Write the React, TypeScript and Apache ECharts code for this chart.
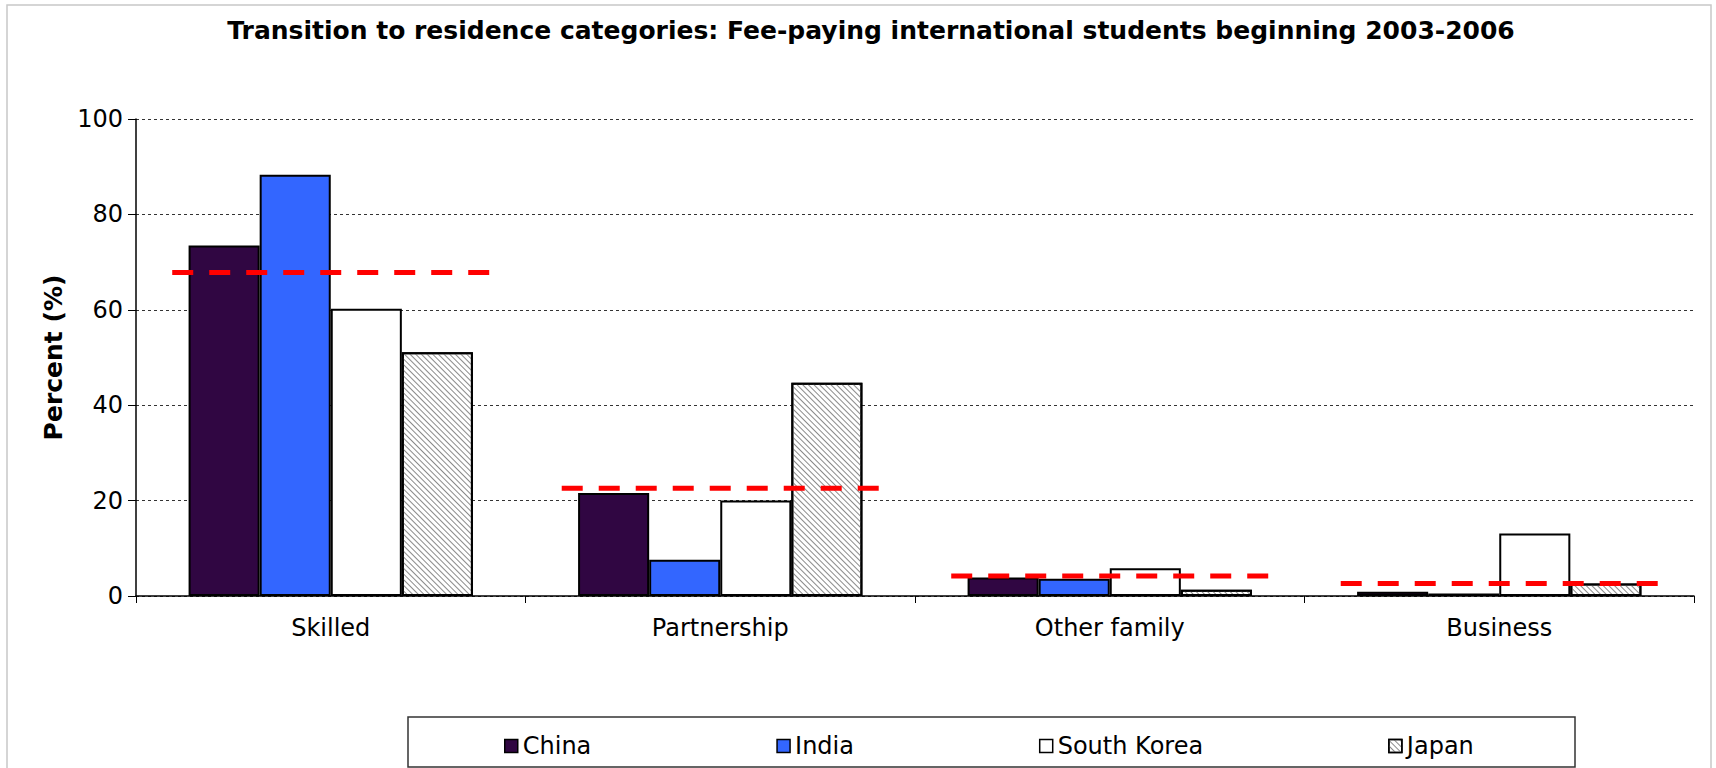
import React, { useEffect, useRef } from "react";
import * as echarts from "echarts";

const categories = ["Skilled", "Partnership", "Other family", "Business"];
const china = [73.5, 21.6, 3.9, 0.9];
const india = [88.3, 7.6, 3.6, 0.5];
const southKorea = [60.2, 20.0, 5.8, 13.1];
const japan = [51.1, 44.7, 1.3, 2.6];
const average = [67.8, 22.6, 4.2, 2.6];
const yTicks = { min: 0, max: 100, interval: 20 };

const FONT = "'DejaVu Sans', Verdana, sans-serif";

export default function App() {
  const ref = useRef<HTMLDivElement>(null);
  useEffect(() => {
    if (!ref.current) return;
    const chart = echarts.init(ref.current, null, { renderer: "svg" });
    const barBase = { type: "bar", barGap: "0%", barCategoryGap: "27%" };
    const border = { borderColor: "#000", borderWidth: 2 };
    chart.setOption({
      animation: false,
      backgroundColor: "#fff",
      textStyle: { fontFamily: FONT },
      title: {
        text: "Transition to residence categories: Fee-paying international students beginning 2003-2006",
        left: 866,
        textAlign: "center",
        top: 13,
        textStyle: { fontFamily: FONT, fontWeight: "bold", fontSize: 25, color: "#000" },
      },
      graphic: [
        {
          type: "rect",
          shape: { x: 7, y: 5, width: 1704, height: 800 },
          style: { fill: "none", stroke: "#c8c8c8", lineWidth: 1.5 },
          silent: true,
        },
        {
          type: "rect",
          shape: { x: 408, y: 717, width: 1167, height: 50 },
          style: { fill: "#fff", stroke: "#333", lineWidth: 1.5 },
          silent: true,
          z: -1,
        },
      ],
      legend: {
        data: ["China", "India", "South Korea", "Japan"],
        left: 499,
        top: 729,
        itemGap: 185,
        itemWidth: 13,
        itemHeight: 13,
        icon: "rect",
        textStyle: { fontFamily: FONT, fontSize: 24, color: "#000" },
        itemStyle: { borderColor: "#000", borderWidth: 1.5 },
      },
      grid: { left: 136, right: 22, top: 119, bottom: 172 },
      xAxis: {
        type: "category",
        data: categories,
        axisLine: { lineStyle: { color: "#000", width: 1.5 } },
        axisTick: { show: true, length: 7, lineStyle: { color: "#000" } },
        axisLabel: { fontFamily: FONT, fontSize: 24, color: "#000", margin: 20 },
      },
      yAxis: {
        type: "value",
        min: yTicks.min,
        max: yTicks.max,
        interval: yTicks.interval,
        name: "Percent (%)",
        nameLocation: "middle",
        nameGap: 70,
        nameTextStyle: { fontFamily: FONT, fontWeight: "bold", fontSize: 25, color: "#000" },
        axisLine: { show: true, lineStyle: { color: "#000", width: 1.5 } },
        axisTick: { show: true, length: 8, lineStyle: { color: "#000" } },
        axisLabel: { fontFamily: FONT, fontSize: 24, color: "#000", margin: 13 },
        splitLine: { lineStyle: { color: "#333", width: 1, type: [3, 3] } },
      },
      series: [
        { ...barBase, name: "China", data: china, itemStyle: { color: "#300642", ...border } },
        { ...barBase, name: "India", data: india, itemStyle: { color: "#3366ff", ...border } },
        { ...barBase, name: "South Korea", data: southKorea, itemStyle: { color: "#ffffff", ...border } },
        {
          ...barBase,
          name: "Japan",
          data: japan,
          itemStyle: {
            color: "#ffffff",
            ...border,
            decal: {
              symbol: "rect",
              symbolSize: 1,
              dashArrayX: [1, 0],
              dashArrayY: [1, 3],
              rotation: Math.PI / 4,
              color: "#8a8a8a",
            },
          },
        },
        {
          type: "custom",
          name: "Average",
          z: 10,
          data: categories.map((c, i) => [i, average[i]]),
          encode: { x: 0, y: 1 },
          renderItem: (params: any, api: any) => {
            const pt = api.coord([api.value(0), api.value(1)]);
            const w = api.size([1, 0])[0];
            const half = w * 0.407;
            return {
              type: "line",
              shape: { x1: pt[0] - half, y1: pt[1], x2: pt[0] + half, y2: pt[1] },
              style: { stroke: "#ff0000", lineWidth: 5, lineDash: [21, 16] },
            };
          },
        },
      ],
    });
    return () => chart.dispose();
  }, []);
  return (
    <div
      ref={ref}
      style={{ position: "fixed", left: 0, top: 0, width: 1716, height: 768 }}
    />
  );
}
